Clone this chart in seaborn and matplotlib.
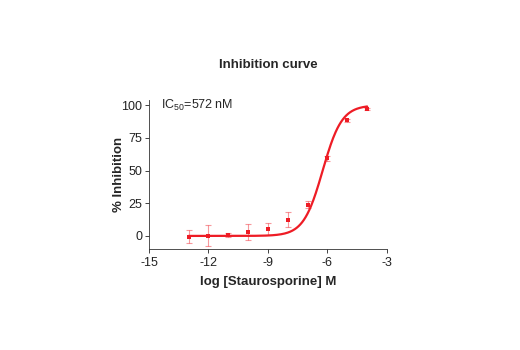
import numpy as np
import pandas as pd
import seaborn as sns
import matplotlib.pyplot as plt

log_conc = [-13, -12, -11, -10, -9, -8, -7, -6, -5, -4]
inhibition = [-0.5, 0.3, 1.0, 3.0, 5.5, 12.3, 24.0, 59.6, 88.4, 97.0]
err = [4.7, 7.8, 1.5, 6.3, 4.7, 5.7, 2.9, 1.9, 1.0, 1.0]

# fitted 4-parameter logistic curve
ic50_nM = 572
hill = 0.9
bottom, top = 0.0, 100.0

red = "#ee1c25"

sns.set_theme(style="ticks")
plt.rcParams["font.family"] = ["Liberation Sans", "DejaVu Sans"]
plt.rcParams["axes.unicode_minus"] = False
plt.rcParams["mathtext.default"] = "regular"

df = pd.DataFrame({"log": log_conc, "inh": inhibition, "err": err})

xs = np.linspace(-13, -4, 300)
log_ic50 = np.log10(ic50_nM * 1e-9)
curve = pd.DataFrame({"log": xs,
                      "inh": bottom + (top - bottom) / (1 + 10 ** (hill * (log_ic50 - xs)))})

fig = plt.figure(figsize=(5.2, 3.5), dpi=100)
ax = fig.add_axes([0.2865, 0.2886, 0.4577, 0.4257])

ax.errorbar(df["log"], df["inh"], yerr=df["err"], fmt="none",
            ecolor=red, alpha=0.45, elinewidth=0.8, capsize=2, capthick=0.8)
sns.lineplot(data=curve, x="log", y="inh", ax=ax, color=red, linewidth=1.6)
sns.scatterplot(data=df, x="log", y="inh", ax=ax, color=red, marker="s",
                s=9, linewidth=0, zorder=3)

ax.set_xlim(-15, -3)
ax.set_ylim(-10, 104)
ax.set_xticks([-15, -12, -9, -6, -3])
ax.set_yticks([0, 25, 50, 75, 100])
ax.tick_params(direction="out", length=3, width=0.6, labelsize=9, colors="#222222", pad=2)
ax.tick_params(axis="x", pad=3)
for s in ["left", "bottom"]:
    ax.spines[s].set_linewidth(0.6)
    ax.spines[s].set_color("#333333")
sns.despine(ax=ax)

ax.set_xlabel("log [Staurosporine] M", fontsize=9.5, fontweight="bold", labelpad=5)
ax.set_ylabel("% Inhibition", fontsize=9.5, fontweight="bold", labelpad=-3)
ax.set_title("Inhibition curve", fontsize=9.5, fontweight="bold", pad=23)
ax.text(-14.4, 100, r"IC$_{50}$=572 nM", fontsize=9, va="center", ha="left")

fig.savefig("out.png", dpi=100)
